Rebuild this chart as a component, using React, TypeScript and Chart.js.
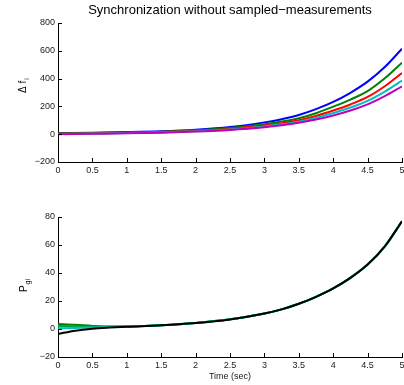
import React, { useEffect, useRef } from "react";
import { Chart, registerables } from "chart.js";

Chart.register(...registerables);

// ---------- data ----------
const TIME_TOP = [0, 0.5, 1, 1.5, 2, 2.5, 3, 3.25, 3.5, 3.75, 4, 4.25, 4.5, 4.75, 5];
const DF_BLUE = [8, 11, 15, 21, 32, 51, 85, 108, 138, 180, 232, 298, 378, 483, 615];
const DF_GREEN = [6, 9, 13, 18, 28, 44, 72, 91, 115, 151, 198, 249, 310, 402, 515];
const DF_RED = [4, 7, 10, 15, 24, 38, 62, 79, 100, 131, 170, 214, 268, 345, 440];
const DF_CYAN = [2, 5, 8, 13, 21, 34, 56, 71, 90, 117, 152, 192, 240, 307, 385];
const DF_MAGENTA = [0, 3, 6, 11, 19, 31, 50, 64, 82, 106, 135, 171, 215, 274, 345];

const TIME_BOT = [0, 0.25, 0.5, 0.75, 1, 1.5, 2, 2.5, 3, 3.25, 3.5, 3.75, 4, 4.25, 4.5, 4.75, 5];
const PG_BLACK = [-3.5, -1.2, 0.2, 1.0, 1.6, 2.6, 4.2, 6.8, 11, 14, 18, 23, 29, 36.5, 46, 59, 77];
const PG_CYAN = [0.6, 0.8, 1.0, 1.4, 1.8, 2.7, 4.3, 6.9, 11, 14, 18, 23, 29, 36.5, 46, 59, 77];
const PG_GREEN = [2.2, 2.0, 1.6, 1.6, 1.8, 2.7, 4.3, 6.9, 11, 14, 18, 23, 29, 36.5, 46, 59, 77];
const PG_DKGREEN = [3.5, 3.0, 2.2, 1.7, 1.8, 2.7, 4.3, 6.9, 11, 14, 18, 23, 29, 36.5, 46, 59, 77];

const X_TICKS = [0, 0.5, 1, 1.5, 2, 2.5, 3, 3.5, 4, 4.5, 5];
const Y_TICKS_TOP = [-200, 0, 200, 400, 600, 800];
const Y_TICKS_BOT = [-20, 0, 20, 40, 60, 80];

const TITLE = "Synchronization without sampled\u2212measurements";
const X_TITLE = "Time (sec)";

const FONT = '"Liberation Sans", Arial, Helvetica, sans-serif';

function pts(xs: number[], ys: number[]) {
  return xs.map((x, i) => ({ x, y: ys[i] }));
}

function fmt(v: number) {
  return v < 0 ? "\u2212" + String(-v) : String(v);
}

const inwardTicks = {
  id: "inwardTicks",
  afterDatasetsDraw(chart: any) {
    const { ctx, chartArea, scales } = chart;
    ctx.save();
    ctx.strokeStyle = "#000";
    ctx.lineWidth = 1;
    ctx.beginPath();
    scales.x.ticks.forEach((t: any) => {
      const px = Math.round(scales.x.getPixelForValue(t.value)) + 0.5;
      ctx.moveTo(px, chartArea.bottom);
      ctx.lineTo(px, chartArea.bottom - 4);
    });
    scales.y.ticks.forEach((t: any) => {
      const py = Math.round(scales.y.getPixelForValue(t.value)) + 0.5;
      ctx.moveTo(chartArea.left, py);
      ctx.lineTo(chartArea.left + 4, py);
    });
    ctx.stroke();
    ctx.restore();
  },
};

function yLabel(main: string, sub: string, bx: number, cy: number) {
  return {
    id: "yLabel",
    afterDraw(chart: any) {
      const ctx = chart.ctx;
      ctx.save();
      ctx.translate(bx, cy);
      ctx.rotate(-Math.PI / 2);
      ctx.fillStyle = "#000";
      ctx.textBaseline = "alphabetic";
      ctx.textAlign = "left";
      const mainFont = `10px ${FONT}`;
      const subFont = `7px ${FONT}`;
      ctx.font = mainFont;
      const wm = ctx.measureText(main).width;
      ctx.font = subFont;
      const ws = ctx.measureText(sub).width;
      const x0 = -(wm + ws) / 2;
      ctx.font = mainFont;
      ctx.fillText(main, x0, 0);
      ctx.font = subFont;
      ctx.fillText(sub, x0 + wm + 1, 3);
      ctx.restore();
    },
  };
}

function makeOptions(yMin: number, yMax: number, yTicks: number[], xH: number, withTitle: boolean, withXTitle: boolean) {
  const zeroPad = (s: any) => {
    s.paddingTop = 0;
    s.paddingBottom = 0;
    s.paddingLeft = 0;
    s.paddingRight = 0;
  };
  return {
    responsive: false,
    animation: false as const,
    events: [],
    layout: { padding: { left: 0, right: 2, top: withTitle ? 0 : 25, bottom: 0 } },
    elements: { point: { radius: 0 }, line: { borderWidth: 2, cubicInterpolationMode: "monotone" as const } },
    plugins: {
      legend: { display: false },
      tooltip: { enabled: false },
      title: {
        display: withTitle,
        text: TITLE,
        fullSize: false,
        color: "#000",
        font: { family: FONT, size: 13, weight: "normal" as const, lineHeight: 1.2 },
        padding: { top: 3, bottom: 4.4 },
      },
    },
    scales: {
      x: {
        type: "linear" as const,
        min: 0,
        max: 5,
        afterBuildTicks: (s: any) => {
          s.ticks = X_TICKS.map((v) => ({ value: v }));
        },
        afterFit: (s: any) => {
          s.height = xH;
          zeroPad(s);
        },
        grid: { display: false, drawTicks: false },
        border: { display: true, color: "#000", width: 1 },
        ticks: {
          padding: 3,
          color: "#222",
          font: { family: FONT, size: 9 },
          maxRotation: 0,
          autoSkip: false,
          callback: (v: any) => fmt(v),
        },
        title: {
          display: withXTitle,
          text: X_TITLE,
          color: "#222",
          font: { family: FONT, size: 9 },
          padding: { top: 0, bottom: 3 },
        },
      },
      y: {
        type: "linear" as const,
        min: yMin,
        max: yMax,
        afterBuildTicks: (s: any) => {
          s.ticks = yTicks.map((v) => ({ value: v }));
        },
        afterFit: (s: any) => {
          s.width = 58;
          zeroPad(s);
        },
        grid: { display: false, drawTicks: false },
        border: { display: true, color: "#000", width: 1 },
        ticks: {
          padding: 3,
          color: "#222",
          font: { family: FONT, size: 9 },
          autoSkip: false,
          callback: (v: any) => fmt(v),
        },
      },
    },
  };
}

export default function App() {
  const topRef = useRef<HTMLCanvasElement>(null);
  const botRef = useRef<HTMLCanvasElement>(null);

  useEffect(() => {
    const top = new Chart(topRef.current!, {
      type: "line",
      data: {
        datasets: [
          { data: pts(TIME_TOP, DF_MAGENTA), borderColor: "#bf00bf" },
          { data: pts(TIME_TOP, DF_CYAN), borderColor: "#00bfbf" },
          { data: pts(TIME_TOP, DF_RED), borderColor: "#ff0000" },
          { data: pts(TIME_TOP, DF_GREEN), borderColor: "#008000" },
          { data: pts(TIME_TOP, DF_BLUE), borderColor: "#0000ff" },
        ],
      },
      options: makeOptions(-200, 800, Y_TICKS_TOP, 30, true, false) as any,
      plugins: [inwardTicks, yLabel("\u0394 f", "i", 26, 86)],
    });
    const bot = new Chart(botRef.current!, {
      type: "line",
      data: {
        datasets: [
          { data: pts(TIME_BOT, PG_BLACK), borderColor: "#000000" },
          { data: pts(TIME_BOT, PG_CYAN), borderColor: "#00bfbf" },
          { data: pts(TIME_BOT, PG_GREEN), borderColor: "#00a040" },
          { data: pts(TIME_BOT, PG_DKGREEN), borderColor: "#008000" },
        ],
      },
      options: makeOptions(-20, 80, Y_TICKS_BOT, 28, false, true) as any,
      plugins: [inwardTicks, yLabel("P", "gi", 27, 94)],
    });
    return () => {
      top.destroy();
      bot.destroy();
    };
  }, []);

  return (
    <div style={{ position: "absolute", left: 0, top: 0, width: 404, height: 385, background: "#fff", overflow: "hidden" }}>
      <canvas ref={topRef} width={404} height={192} style={{ display: "block" }} />
      <canvas ref={botRef} width={404} height={193} style={{ display: "block" }} />
    </div>
  );
}
